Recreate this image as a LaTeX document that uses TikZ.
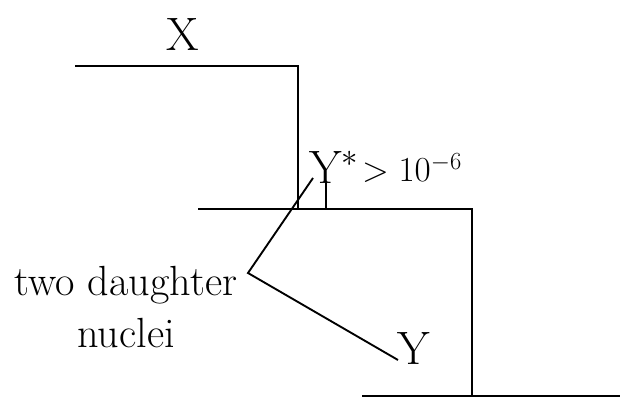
\RequirePackage{fix-cm}
\documentclass[tikz,border=0pt]{standalone}
\usepackage{tikz}
\usetikzlibrary{positioning}

\begin{document}
\begin{tikzpicture}[
  x=0.03cm, y=-0.03cm,
  level/.style={line width=2.4pt},
  pointer/.style={line width=1.6pt},
  hand/.style={inner sep=0pt, font=\fontsize{36}{44}\selectfont, align=center},
  big/.style={inner sep=0pt, font=\fontsize{40}{44}\selectfont}
]
\useasboundingbox (0,0) rectangle (634,401);

% energy levels
\coordinate (xl) at (75,66);
\coordinate (xr) at (298,66);
\coordinate (ml) at (198,209);
\coordinate (mr) at (472,209);
\coordinate (yl) at (362,396);
\coordinate (yr) at (620,396);
\draw[level] (xl) -- (xr) -- (xr |- ml);
\draw[level] (ml) -- (mr) -- (mr |- yl);
\draw[level] (yl) -- (yr);

% labels
\node[big] (X) at (183,34) {X};
\node[big, anchor=south west] (Ystar) at (309,184) {Y$^*$};
\node[hand, font=\fontsize{30}{34}\selectfont] (gt) at (412,168) {$>10^{-6}$};
\node[hand] (daughters) at (126,307) {two daughter\\nuclei};
\node[big] (Y) at (414,348) {Y};

% tick under Y*
\coordinate (tick) at (326,209);
\draw[pointer] (tick) -- ++(0,-27);

% pointers
\coordinate (apex) at (248,273);
\coordinate (up) at (313,178);
\coordinate (down) at (398,360);
\draw[pointer] (up) -- (apex) -- (down);
\end{tikzpicture}
\end{document}
